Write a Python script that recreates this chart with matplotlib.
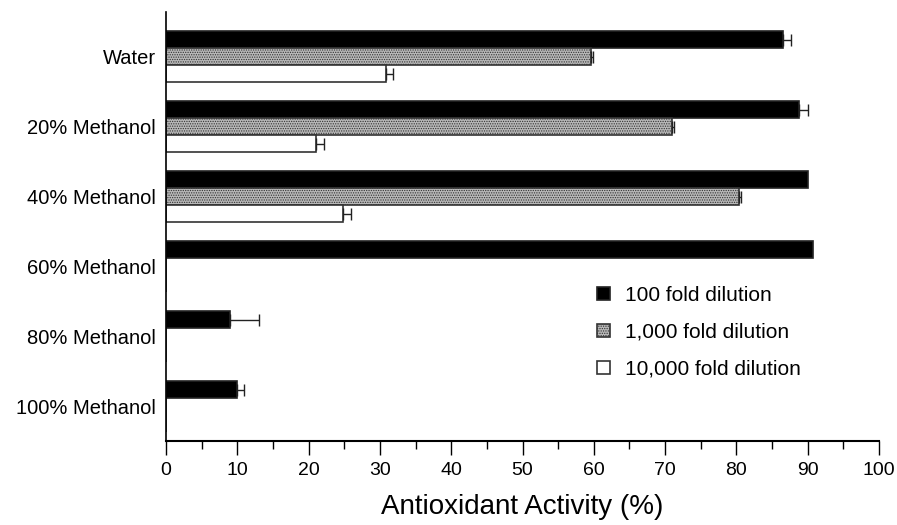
import numpy as np
import matplotlib
matplotlib.use("Agg")
import matplotlib.pyplot as plt
from matplotlib.ticker import MultipleLocator

plt.rcParams['font.family'] = ['Liberation Sans', 'DejaVu Sans']
plt.rcParams['hatch.linewidth'] = 0.6

# Datos
solvents = ['Water', '20% Methanol', '40% Methanol', '60% Methanol',
            '80% Methanol', '100% Methanol']
series = ['100 fold dilution', '1,000 fold dilution', '10,000 fold dilution']
d100 = [86.5, 88.8, 90.1, 90.7, 9.0, 9.9]
d100_err = [1.2, 1.2, 0.0, 0.0, 4.1, 1.1]
d1000 = [59.6, 70.9, 80.4, np.nan, np.nan, np.nan]
d1000_err = [0.3, 0.4, 0.3, 0.0, 0.0, 0.0]
d10000 = [30.8, 21.0, 24.8, np.nan, np.nan, np.nan]
d10000_err = [1.1, 1.1, 1.1, 0.0, 0.0, 0.0]

fig = plt.figure(figsize=(8.97, 5.25), dpi=100)
ax = fig.add_axes([0.185, 0.16, 0.795, 0.817])

y = np.arange(len(solvents))
h = 0.243
estilos = [dict(color='black', edgecolor='#222222', hatch=None),
           dict(color='#b8b8b8', edgecolor='#333333', hatch='.......'),
           dict(color='white', edgecolor='#333333', hatch=None)]
valores = [d100, d1000, d10000]
erros = [d100_err, d1000_err, d10000_err]

for i, (vals, errs, st, lab) in enumerate(zip(valores, erros, estilos, series)):
    pos = y - h + i * h
    v = np.array(vals, dtype=float)
    e = np.array(errs, dtype=float)
    ax.barh(pos, np.nan_to_num(v), height=h, color=st['color'],
            edgecolor=st['edgecolor'], hatch=st['hatch'], linewidth=1.2,
            label=lab)
    mask = ~np.isnan(v) & (e > 0)
    ax.errorbar(v[mask], pos[mask], xerr=[np.zeros(mask.sum()), e[mask]],
                fmt='none', ecolor='#222222', elinewidth=1.0, capsize=4,
                capthick=1.0)

ax.set_ylim(5.49, -0.64)
ax.set_xlim(0, 100)
ax.set_yticks(y)
ax.set_yticklabels(solvents, fontsize=14.5)
ax.tick_params(axis='y', length=0, pad=7)
ax.xaxis.set_major_locator(MultipleLocator(10))
ax.xaxis.set_minor_locator(MultipleLocator(5))
ax.tick_params(axis='x', which='major', length=10, width=1.0, labelsize=14,
               pad=5)
ax.tick_params(axis='x', which='minor', length=6, width=1.0)
ax.set_xlabel('Antioxidant Activity (%)', fontsize=20, labelpad=11)

for s in ['top', 'right']:
    ax.spines[s].set_visible(False)
ax.spines['left'].set_linewidth(1.2)
ax.spines['bottom'].set_linewidth(1.5)

ax.legend(loc='upper left', bbox_to_anchor=(0.587, 0.39), frameon=False,
          fontsize=15, handlelength=0.6, handleheight=0.6,
          handletextpad=0.75, labelspacing=0.85, borderaxespad=0.2)

fig.savefig('out.png', dpi=100)
